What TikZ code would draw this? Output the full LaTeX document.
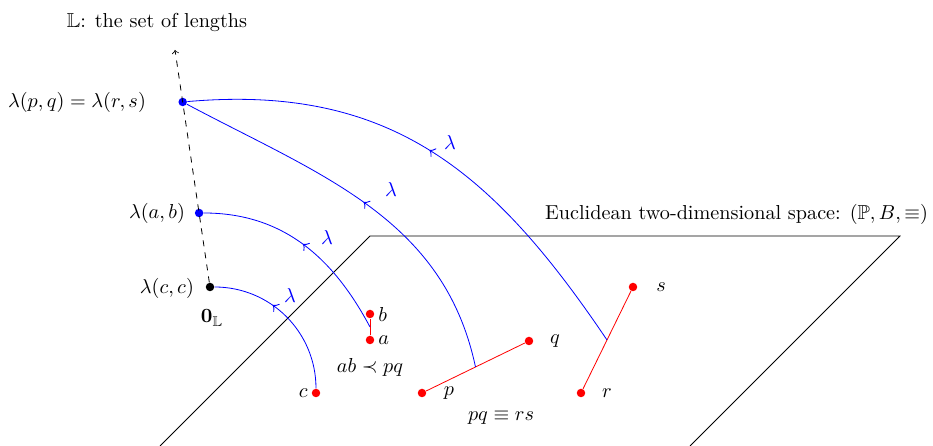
\documentclass[tikz,border=0pt]{standalone}
\usepackage{amssymb}
\usetikzlibrary{calc,decorations.markings}
\tikzset{
  dot/.style={circle,fill=#1,inner sep=0pt,minimum size=4.2pt},
  lenmap/.style={blue,postaction={decorate},decoration={markings,mark=at position #1 with {\arrow[scale=1.4]{<}}}},
  lamlab/.style={blue,inner sep=1pt},
  ptlab/.style={inner sep=1pt}
}
\begin{document}
\begin{tikzpicture}[x=0.495pt,y=0.495pt]
\useasboundingbox (0,0) rectangle (933,446);
% plane
\coordinate (P1) at (160,0);
\coordinate (P2) at (370,210);
\coordinate (P3) at (900,210);
\coordinate (P4) at (690,0);
\draw (P1) -- (P2) -- (P3) -- (P4);
\node[anchor=east] (eucl) at (935,232) {Euclidean two-dimensional space: $(\mathbb{P},B,\equiv)$};
% length axis
\coordinate (top) at (175,396);
\node[dot=black] (O) at (210,159) {};
\node[dot=blue] (Lab) at (199.1,233) {};
\node[dot=blue] (Lpq) at (182.7,344) {};
\draw[dashed,->] (O) -- (top);
\node (Ltitle) at (157,424) {$\mathbb{L}$: the set of lengths};
\node[anchor=east] (lpqlab) at (153,344) {$\lambda(p,q)=\lambda(r,s)$};
\node[anchor=east] (lablab) at (192,233) {$\lambda(a,b)$};
\node[anchor=east] (lcclab) at (201,158) {$\lambda(c,c)$};
\node (zero) at (212,128) {$\mathbf{0}_{\mathbb{L}}$};
% points
\node[dot=red] (c) at (316,53) {};
\node[dot=red] (a) at (370,106) {};
\node[dot=red] (b) at (370,132) {};
\node[dot=red] (p) at (422,53) {};
\node[dot=red] (q) at (529,105) {};
\node[dot=red] (r) at (581,53) {};
\node[dot=red] (s) at (633,159) {};
\draw[red] (a) -- (b);
\draw[red] (p) -- (q);
\draw[red] (r) -- (s);
\node[ptlab,anchor=east] (cl) at (310,53) {$c$};
\node[ptlab,anchor=west] (al) at (376,106) {$a$};
\node[ptlab,anchor=west] (bl) at (376,132) {$b$};
\node[ptlab] (pl) at (449,53) {$p$};
\node[ptlab] (ql) at (555,105) {$q$};
\node[ptlab] (rl) at (607,53) {$r$};
\node[ptlab] (sl) at (661,159) {$s$};
\node (abpq) at (370,79) {$ab\prec pq$};
\node (pqrs) at (501,28) {$pq\equiv rs$};
\coordinate (mab) at ($(a)!0.5!(b)$);
\coordinate (mpq) at ($(p)!0.5!(q)$);
\coordinate (mrs) at ($(r)!0.5!(s)$);
% length maps
\draw[lenmap=0.42] (O) to[out=0,in=90] (c);
\draw[lenmap=0.52] (Lab) to[out=0,in=118] (mab);
\draw[lenmap=0.51] (Lpq) to[out=-28,in=102] (mpq);
\draw[lenmap=0.50] (Lpq) to[out=5,in=124,looseness=1.08] (mrs);
\node[lamlab] (l1) at (290,151) {$\lambda$};
\node[lamlab] (l2) at (327,209) {$\lambda$};
\node[lamlab] (l3) at (391,257) {$\lambda$};
\node[lamlab] (l4) at (450,304) {$\lambda$};
\end{tikzpicture}
\end{document}
